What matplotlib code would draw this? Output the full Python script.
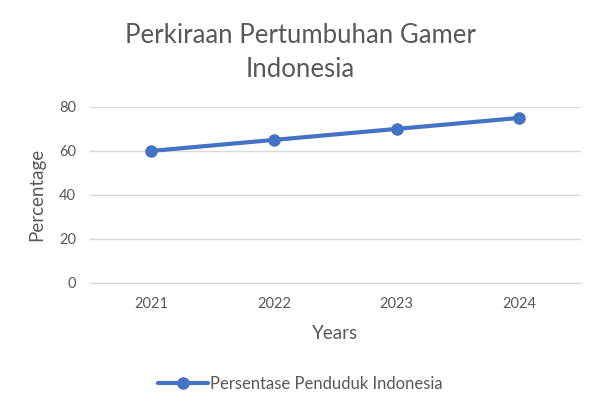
import matplotlib.pyplot as plt

years = ['2021', '2022', '2023', '2024']
persentase = [60, 65, 70, 75]
y_ticks = [0, 20, 40, 60, 80]

plt.rcParams['font.family'] = ['Lato', 'DejaVu Sans']
grey = '#595959'
blue = '#4472C4'

fig = plt.figure(figsize=(6, 4.16), dpi=100)
ax = fig.add_axes([0.15, 0.32, 0.818, 0.423])

x = list(range(len(years)))
ax.plot(x, persentase, color=blue, lw=3, marker='o', ms=8,
        solid_capstyle='round', label='Persentase Penduduk Indonesia')

ax.set_xlim(-0.5, len(years) - 0.5)
ax.set_ylim(0, 80)
ax.set_yticks(y_ticks)
ax.set_xticks(x)
ax.set_xticklabels(years)
ax.grid(axis='y', color='#D9D9D9', lw=1)
ax.set_axisbelow(True)
for s in ['top', 'right', 'left']:
    ax.spines[s].set_visible(False)
ax.spines['bottom'].set_color('#D9D9D9')
ax.tick_params(length=0, labelsize=10.5, colors=grey, pad=10)

ax.set_xlabel('Years', fontsize=13.5, color=grey, labelpad=10)
ax.set_ylabel('Percentage', fontsize=13.5, color=grey, labelpad=10)

fig.text(0.5, 0.873, 'Perkiraan Pertumbuhan Gamer\nIndonesia', ha='center', va='center',
         fontsize=18.5, color=grey, linespacing=1.45)

fig.legend(loc='center', bbox_to_anchor=(0.5, 0.078), frameon=False, fontsize=12,
           labelcolor=grey, handlelength=3, handletextpad=0.1)

plt.savefig('out.png', dpi=100)
